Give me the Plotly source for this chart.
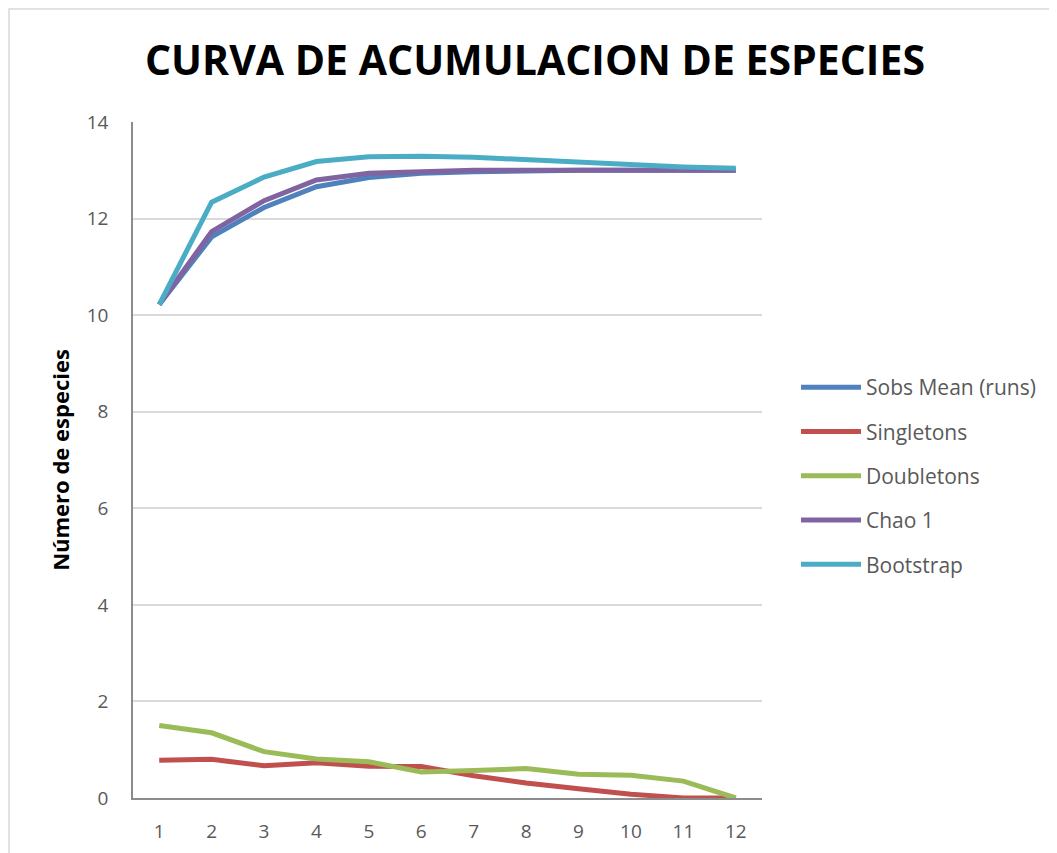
import plotly.graph_objects as go

muestras = ["1", "2", "3", "4", "5", "6", "7", "8", "9", "10", "11", "12"]
sobs_mean = [10.22, 11.62, 12.23, 12.66, 12.85, 12.94, 12.97, 12.99, 13.0, 13.0, 13.0, 13.0]
singletons = [0.78, 0.80, 0.67, 0.73, 0.66, 0.65, 0.46, 0.31, 0.19, 0.08, 0.0, 0.0]
doubletons = [1.50, 1.35, 0.96, 0.81, 0.75, 0.54, 0.57, 0.61, 0.49, 0.47, 0.35, 0.0]
chao1 = [10.22, 11.73, 12.37, 12.80, 12.94, 12.98, 13.0, 13.0, 13.0, 13.0, 13.0, 13.0]
bootstrap = [10.22, 12.34, 12.86, 13.18, 13.28, 13.29, 13.27, 13.22, 13.16, 13.11, 13.07, 13.04]

series = [
    ("Sobs Mean (runs)", sobs_mean, "#4F81BD"),
    ("Singletons", singletons, "#C0504D"),
    ("Doubletons", doubletons, "#9BBB59"),
    ("Chao 1", chao1, "#8064A2"),
    ("Bootstrap", bootstrap, "#4BACC6"),
]

FONT = "Open Sans"

fig = go.Figure()
for name, vals, color in series:
    fig.add_trace(go.Scatter(
        x=muestras, y=vals, mode="lines", name=name, legendgroup=name,
        line=dict(color=color, width=5),
    ))

# page body has an 8px margin; figure coords = screen coords - 8
OFF = 8
W, H = 1057, 853
L, T = 133 - OFF, 122 - OFF
pw, ph = 629, 676
R = W - L - pw
B = H - T - ph

fig.update_layout(
    width=W, height=H,
    margin=dict(l=L, r=R, t=T, b=B),
    paper_bgcolor="white", plot_bgcolor="white",
    font=dict(family=FONT, color="#595959", size=19),
    title=dict(text="<b>CURVA DE ACUMULACION DE ESPECIES</b>",
               x=(535 - OFF) / W, xanchor="center", y=1 - (61 - OFF) / H, yanchor="middle",
               font=dict(family=FONT, size=41, color="black")),
    showlegend=True,
    legend=dict(x=(796 - 133) / pw, xanchor="left", y=(798 - 476) / ph, yanchor="middle",
                font=dict(family=FONT, size=21, color="#595959"),
                tracegroupgap=14, itemwidth=60, bgcolor="rgba(0,0,0,0)"),
    xaxis=dict(type="category", range=[-0.5, 11.5], showgrid=False,
               showline=True, linecolor="#8c8c8c", linewidth=1.5,
               ticks="", tickfont=dict(size=19, color="#595959"), ticklabelstandoff=15),
    yaxis=dict(range=[0, 14], dtick=2, showgrid=True, gridcolor="#d9d9d9", gridwidth=1.5,
               showline=True, linecolor="#8c8c8c", linewidth=1.5, zeroline=False,
               ticks="", tickfont=dict(size=19, color="#595959"), ticklabelstandoff=19,
               title=dict(text="<b>Número de especies</b>", standoff=11,
                          font=dict(family=FONT, size=22, color="black"))),
)

fig.add_shape(type="rect", xref="paper", yref="paper",
              x0=(1 - L) / pw, x1=(W + 20 - L) / pw,
              y0=-(B + 20) / ph, y1=(ph + T - 1) / ph,
              line=dict(color="#d9d9d9", width=1.5), fillcolor="rgba(0,0,0,0)", layer="below")

fig.write_html("out.html")
